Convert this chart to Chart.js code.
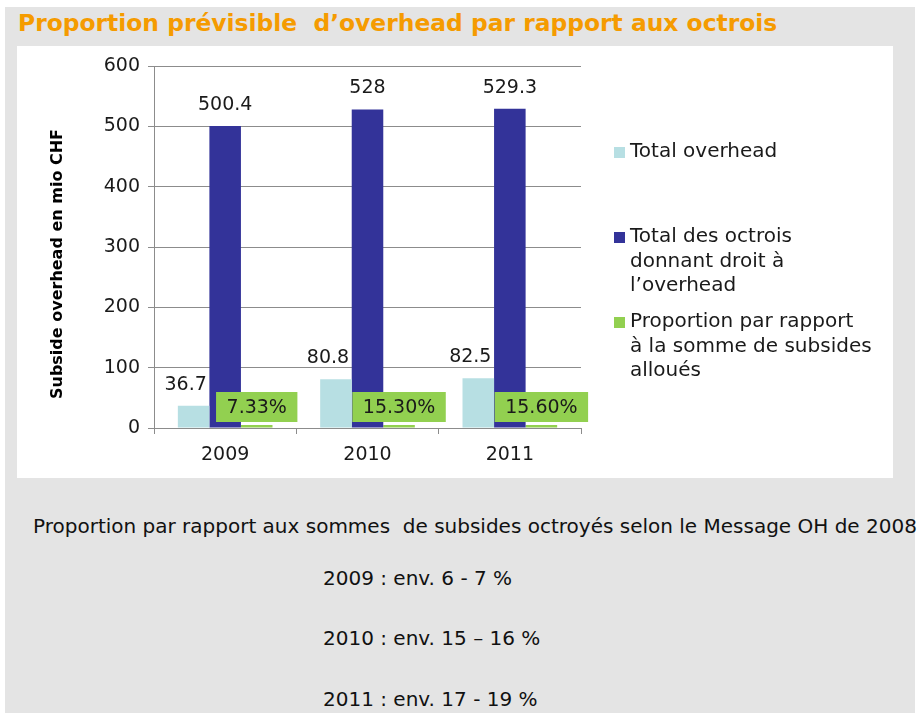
<!DOCTYPE html>
<html>
<head>
<meta charset="utf-8">
<script src="https://cdn.jsdelivr.net/npm/chart.js@4.4.0/dist/chart.umd.min.js"></script>
<style>
  html, body { margin: 0; padding: 0; background: #fff; }
  body { width: 922px; height: 713px; overflow: hidden; position: relative; font-family: "DejaVu Sans", Verdana, sans-serif; }
  #page { position: absolute; left: 5px; top: 7px; width: 910px; height: 706px; background: #e4e4e4; }
  h1 { position: absolute; left: 18px; top: 9px; margin: 0; font: bold 23.4px "DejaVu Sans", Verdana, sans-serif; color: #f59b00; white-space: pre; }
  #panel { position: absolute; left: 17px; top: 46px; width: 876px; height: 432px; background: #fff; }
  .note { position: absolute; margin: 0; font: 20px "DejaVu Sans", Verdana, sans-serif; color: #111; white-space: pre; }
</style>
</head>
<body>
<div id="page"></div>
<h1>Proportion prévisible  d’overhead par rapport aux octrois</h1>
<div id="panel"><canvas id="overheadChart"></canvas></div>
<p class="note" style="left:33px; top:514px;">Proportion par rapport aux sommes  de subsides octroyés selon le Message OH de 2008</p>
<p class="note" style="left:323px; top:566px;">2009 : env. 6 - 7 %</p>
<p class="note" style="left:323px; top:626px;">2010 : env. 15 – 16 %</p>
<p class="note" style="left:323px; top:687px;">2011 : env. 17 - 19 %</p>

<script>
// chart data
const years = ['2009', '2010', '2011'];
const totalOverhead = [36.7, 80.8, 82.5];
const totalOctrois = [500.4, 528, 529.3];
const proportionPct = [7.33, 15.30, 15.60];
const yTicks = [0, 100, 200, 300, 400, 500, 600];
const yTitle = 'Subside overhead en mio CHF';
const seriesNames = [
  ['Total overhead'],
  ['Total des octrois', 'donnant droit à', 'l’overhead'],
  ['Proportion par rapport', 'à la somme de subsides', 'alloués']
];
const seriesColors = ['#b7dfe3', '#333399', '#92d050'];

const textColor = '#1a1a1a';
const gridColor = '#8c8c8c';
const baseFont = '"DejaVu Sans", Verdana, sans-serif';

// value labels above bars + green boxes for the percentages
const valueLabels = {
  id: 'valueLabels',
  afterDatasetsDraw(chart) {
    const ctx = chart.ctx;
    const y0 = chart.scales.y.getPixelForValue(0);
    ctx.save();
    ctx.font = '19px ' + baseFont;
    ctx.textAlign = 'center';
    ctx.textBaseline = 'middle';
    ctx.fillStyle = textColor;
    [0, 1].forEach(di => {
      chart.getDatasetMeta(di).data.forEach((bar, i) => {
        const shift = di === 0 ? -8 : 0;
        ctx.fillText(String(chart.data.datasets[di].data[i]), bar.x + shift, bar.y - 21);
      });
    });
    chart.getDatasetMeta(2).data.forEach((bar, i) => {
      const txt = proportionPct[i].toFixed(2) + '%';
      const w = ctx.measureText(txt).width + 21;
      const h = 30;
      const top = y0 - 6 - h;
      ctx.fillStyle = seriesColors[2];
      ctx.fillRect(bar.x - w / 2, top, w, h);
      ctx.fillStyle = textColor;
      ctx.fillText(txt, bar.x, top + h / 2 + 1);
    });
    ctx.restore();
  }
};

// legend on the right with wrapped lines, and the rotated y title
const sideLegend = {
  id: 'sideLegend',
  afterDraw(chart) {
    const ctx = chart.ctx;
    const tops = [106, 191, 276];
    const lineH = 24.5;
    ctx.save();
    ctx.font = '20px ' + baseFont;
    ctx.textBaseline = 'middle';
    ctx.textAlign = 'left';
    seriesNames.forEach((lines, i) => {
      ctx.fillStyle = seriesColors[i];
      ctx.fillRect(597, tops[i] - 5, 11, 11);
      ctx.fillStyle = textColor;
      lines.forEach((line, j) => ctx.fillText(line, 613, tops[i] + j * lineH));
    });
    // y axis title
    ctx.translate(41, 218);
    ctx.rotate(-Math.PI / 2);
    ctx.font = 'bold 16px ' + baseFont;
    ctx.textAlign = 'center';
    ctx.fillStyle = '#000';
    ctx.fillText(yTitle, 0, 0);
    ctx.restore();
  }
};

new Chart(document.getElementById('overheadChart'), {
  type: 'bar',
  data: {
    labels: years,
    datasets: [
      { label: seriesNames[0].join(' '), data: totalOverhead, backgroundColor: seriesColors[0] },
      { label: seriesNames[1].join(' '), data: totalOctrois, backgroundColor: seriesColors[1] },
      { label: seriesNames[2].join(' '), data: proportionPct.map(p => p / 100), backgroundColor: seriesColors[2], minBarLength: 3 }
    ]
  },
  options: {
    responsive: true,
    maintainAspectRatio: false,
    animation: false,
    datasets: {
      bar: { categoryPercentage: 0.665, barPercentage: 1.0, borderWidth: 0 }
    },
    layout: { padding: { top: 20, right: 312, left: 0, bottom: 0 } },
    scales: {
      x: {
        grid: { display: true, drawOnChartArea: false, drawTicks: true, tickLength: 6, color: gridColor, offset: true },
        border: { display: true, color: gridColor, width: 1 },
        ticks: { color: textColor, font: { family: baseFont, size: 19 }, padding: 10 },
        afterFit(scale) { scale.height = 50; scale.paddingLeft = 0; scale.paddingRight = 0; }
      },
      y: {
        min: 0,
        max: 600,
        afterBuildTicks(scale) { scale.ticks = yTicks.map(v => ({ value: v })); },
        grid: { color: gridColor, lineWidth: 1, tickLength: 6 },
        border: { display: true, color: gridColor, width: 1 },
        ticks: { color: textColor, font: { family: baseFont, size: 19 }, padding: 8 },
        afterFit(scale) { scale.width = 137; scale.paddingTop = 0; scale.paddingBottom = 0; }
      }
    },
    plugins: {
      legend: { display: false },
      tooltip: { enabled: false }
    }
  },
  plugins: [valueLabels, sideLegend]
});
</script>
</body>
</html>
